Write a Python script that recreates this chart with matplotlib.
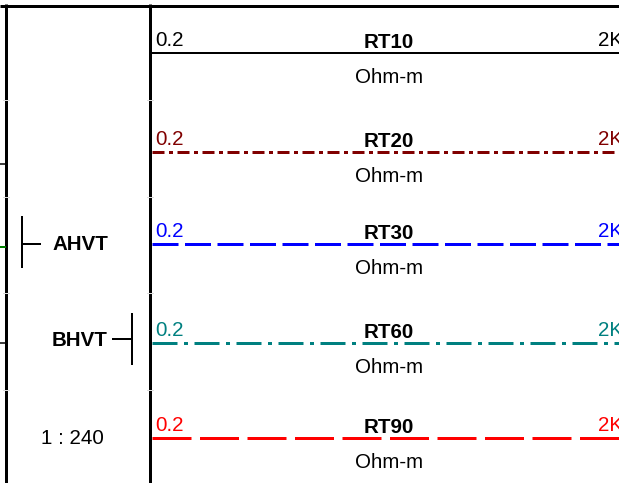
import matplotlib.pyplot as plt
import matplotlib as mpl

mpl.rcParams['font.family'] = ['Liberation Sans', 'DejaVu Sans']
mpl.rcParams['lines.scale_dashes'] = False

# curve header data
curves = ['RT10', 'RT20', 'RT30', 'RT60', 'RT90']
units = ['Ohm-m'] * 5
left_vals = ['0.2'] * 5
right_vals = ['2K'] * 5
colors = ['black', '#800000', '#0000ff', '#008080', '#ff0000']
scale_text = '1 : 240'
markers = ['AHVT', 'BHVT']

# layout (pixels)
W, H = 619, 483
track_l, track_r = 150, 628
line_y = [53, 152, 244, 343, 438]
px = 0.72  # points per pixel at 100 dpi
dash_px = [None, (12, 4.5, 4, 4.5), (26, 6.5), (25, 6.5, 4, 6.5), (39, 8.5)]
fs = 14.8

fig = plt.figure(figsize=(W / 100, H / 100), dpi=100)
ax = fig.add_axes([0, 0, 1, 1])
ax.set_xlim(0, W)
ax.set_ylim(H, 0)
ax.axis('off')

# frame
ax.plot([0, W], [5.5, 5.5], color='black', lw=3 * px, solid_capstyle='butt')
ax.plot([5.5, 5.5], [4, H], color='black', lw=3 * px, solid_capstyle='butt')
ax.plot([150, 150], [4, H], color='black', lw=3 * px, solid_capstyle='butt')

# faint row ticks
for y in [100, 197, 293, 390]:
    ax.plot([3, 9], [y, y], color='#dddddd', lw=1 * px)
    ax.plot([147, 153], [y, y], color='#dddddd', lw=1 * px)

# pieces of the neighbouring track
ax.plot([0, 5], [164, 164], color='black', lw=1.5 * px)
ax.plot([0, 5], [247, 247], color='#008000', lw=2 * px)
ax.plot([0, 5], [343, 343], color='black', lw=1.5 * px)

xc = (track_l + track_r) / 2
for i, name in enumerate(curves):
    y = line_y[i]
    c = colors[i]
    ln, = ax.plot([track_l + 1.5, W], [y, y], color=c,
                  lw=(2 if i == 0 else 3) * px)
    if dash_px[i] is not None:
        ln.set_dashes([d * px for d in dash_px[i]])
    ax.text(155, y - 7, left_vals[i], color=c, fontsize=fs, va='baseline', ha='left')
    ax.text(598, y - 7, right_vals[i], color=c, fontsize=fs, va='baseline', ha='left')
    ax.text(xc, y - 5, name, color='black', fontsize=fs, fontweight='bold',
            va='baseline', ha='center')
    ax.text(xc, y + 30, units[i], color='black', fontsize=fs, va='baseline', ha='center')

# depth markers
ax.plot([22, 22], [217, 267], color='black', lw=2 * px)
ax.plot([22, 40], [244, 244], color='black', lw=2 * px)
ax.text(52, 244, markers[0], fontsize=fs, fontweight='bold', va='center', ha='left')

ax.plot([132, 132], [314, 364], color='black', lw=2 * px)
ax.plot([113, 132], [339, 339], color='black', lw=2 * px)
ax.text(52, 341, markers[1], fontsize=fs, fontweight='bold', va='center', ha='left')

ax.text(72, 438, scale_text, fontsize=fs, va='center', ha='center')

fig.savefig('out.png', dpi=100)
